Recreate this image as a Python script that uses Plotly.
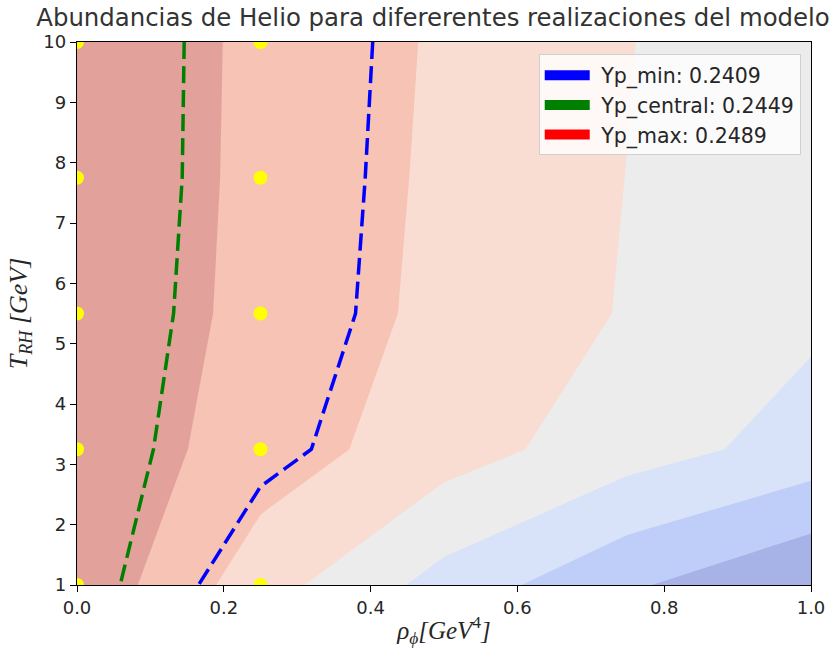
import plotly.graph_objects as go

# ---------------- data ----------------
rho_phi = [0.0, 0.25, 0.5, 0.75, 1.0]          # x grid  (rho_phi [GeV^4])
t_rh = [1.0, 3.25, 5.5, 7.75, 10.0]             # y grid  (T_RH [GeV])

# Helium abundance Yp on the grid (rows follow t_rh, columns follow rho_phi)
yp_row_1 = [0.2471, 0.23774, 0.2305, 0.2246, 0.22008]
yp_row_2 = [0.2469, 0.2421, 0.23777, 0.2338, 0.2304]
yp_row_3 = [0.2471, 0.24292, 0.23902, 0.23572, 0.23275]
yp_row_4 = [0.2474, 0.24304, 0.23929, 0.23595, 0.2330]
yp_row_5 = [0.2474, 0.24312, 0.23949, 0.23613, 0.2332]
yp_grid = [yp_row_1, yp_row_2, yp_row_3, yp_row_4, yp_row_5]

# filled-contour levels
level_start = 0.220
level_end = 0.248
level_step = 0.004

# reference Yp values (dashed contours + legend)
yp_names = ["Yp_min", "Yp_central", "Yp_max"]
yp_values = [0.2409, 0.2449, 0.2489]
yp_colors = ["blue", "green", "red"]

# sampled points
pts_rho = [0.0, 0.0, 0.0, 0.0, 0.0, 0.25, 0.25, 0.25, 0.25, 0.25]
pts_trh = [1.0, 3.25, 5.5, 7.75, 10.0, 1.0, 3.25, 5.5, 7.75, 10.0]

x_ticks = [0.0, 0.2, 0.4, 0.6, 0.8, 1.0]
y_ticks = [1, 2, 3, 4, 5, 6, 7, 8, 9, 10]

# ---------------- styling ----------------
band_colors = ["#a7b2e7", "#bfcef8", "#d8e3f9", "#ececec", "#f9ddd2", "#f6c3b4", "#e3a19c"]
below_color = band_colors[0]
above_color = band_colors[-1]

n_levels = 8
colorscale = []
seq = [below_color] + band_colors + [above_color]
for i, c in enumerate(seq):
    lo = 0.0 if i == 0 else (i - 0.5) / n_levels
    hi = 1.0 if i == len(seq) - 1 else (i + 0.5) / n_levels
    colorscale.append([lo, c])
    colorscale.append([hi, c])

W, H = 840, 651
ML, MR, MT, MB = 77, 29, 42, 61
TXT = "#262626"

fig = go.Figure()

fig.add_trace(go.Contour(
    x=rho_phi, y=t_rh, z=yp_grid,
    autocontour=False,
    contours=dict(start=level_start, end=level_end, size=level_step, coloring="fill"),
    colorscale=colorscale, showscale=False,
    line=dict(width=0, smoothing=0),
    hoverinfo="skip", showlegend=False,
))

for name, v, c in zip(yp_names, yp_values, yp_colors):
    fig.add_trace(go.Contour(
        x=rho_phi, y=t_rh, z=yp_grid,
        autocontour=False,
        contours=dict(start=v, end=v, size=0.001, coloring="none", showlabels=False),
        line=dict(color=c, width=3.5, dash="17px,7px", smoothing=0),
        showscale=False, showlegend=False, hoverinfo="skip",
    ))

fig.add_trace(go.Scatter(
    x=pts_rho, y=pts_trh, mode="markers",
    marker=dict(color="yellow", size=14, line=dict(width=0)),
    showlegend=False, hoverinfo="skip",
))

for name, v, c in zip(yp_names, yp_values, yp_colors):
    fig.add_trace(go.Scatter(
        x=[None], y=[None], mode="lines",
        line=dict(color=c, width=10),
        name=f"\u00a0{name}: {v}",
        legendgroup=name,
    ))

fig.update_layout(
    width=W, height=H, autosize=False,
    margin=dict(l=ML, r=MR, t=MT, b=MB, pad=0),
    paper_bgcolor="white", plot_bgcolor="white",
    font=dict(family="DejaVu Sans", size=18, color=TXT),
    title=dict(
        text="Abundancias de Helio para difererentes realizaciones del modelo",
        x=433 / W, xref="container", xanchor="center",
        y=1 - 17 / H, yref="container", yanchor="middle",
        font=dict(family="DejaVu Sans", size=24.4, color="#333333"),
    ),
    legend=dict(
        x=0.986, y=0.977, xanchor="right", yanchor="top",
        bgcolor="rgba(255,255,255,0.8)", bordercolor="#d0d0d0", borderwidth=1,
        font=dict(family="DejaVu Sans", size=20.5, color=TXT),
        itemwidth=45, tracegroupgap=0,
    ),
    showlegend=True,
)

axis_common = dict(
    showline=True, linecolor="black", linewidth=1.3, mirror=True,
    ticks="outside", ticklen=6, tickwidth=1.2, tickcolor="black",
    showgrid=False, zeroline=False,
    tickfont=dict(family="DejaVu Sans", size=18, color=TXT),
)

fig.update_xaxes(
    range=[0, 1], tickvals=x_ticks, ticktext=[f"{t:.1f}" for t in x_ticks],
    title=dict(text="<i>ρ</i><sub><i>ϕ</i></sub><i>[GeV</i><sup>4</sup><i>]</i>",
               font=dict(family="Liberation Serif", size=25, color=TXT), standoff=4),
    **axis_common,
)
fig.update_yaxes(
    range=[1, 10], tickvals=y_ticks,
    title=dict(text="<i>T</i><sub><i>RH</i></sub><i> [GeV]</i>",
               font=dict(family="Liberation Serif", size=26, color=TXT), standoff=8),
    **axis_common,
)

fig.write_html("out.html")
